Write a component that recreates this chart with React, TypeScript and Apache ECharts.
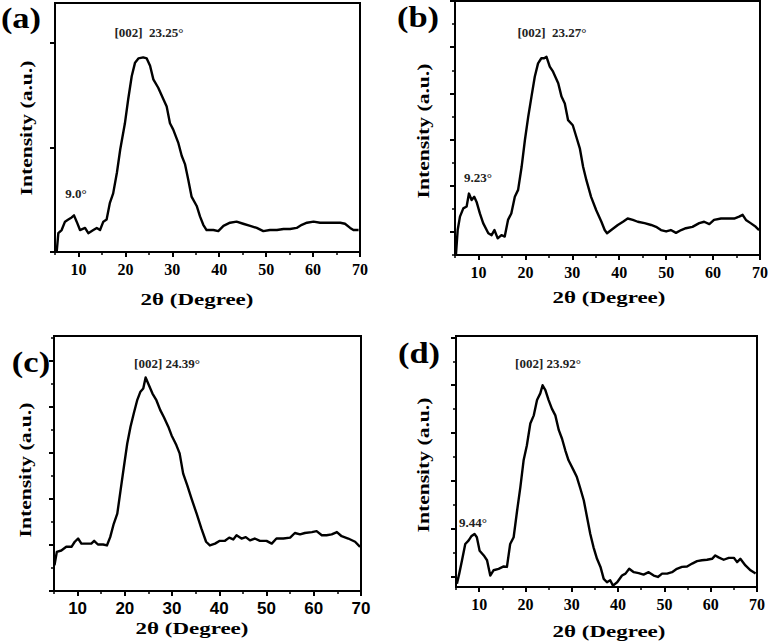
import React, { useEffect, useRef } from "react";
import * as echarts from "echarts";

// ---- Data (2θ in degrees, intensity in arbitrary units) ----
const thetaA = [5.36, 5.71, 6.42, 7.13, 7.84, 8.55, 9.05, 9.62, 10.33, 11.4, 12.1, 13.17, 13.9, 14.6, 15.3, 16.0, 16.7, 17.4, 18.2, 18.9, 19.9, 20.6, 21.35, 22.06, 22.77, 23.8, 24.55, 25.26, 25.96, 27.0, 28.1, 28.8, 29.5, 30.2, 31.3, 32.0, 32.7, 33.4, 34.1, 35.2, 35.9, 36.6, 37.3, 38.75, 39.8, 40.9, 42.3, 43.7, 45.1, 46.6, 48.0, 49.4, 50.8, 52.3, 53.7, 55.1, 56.5, 57.6, 58.7, 60.1, 61.5, 62.9, 64.3, 65.8, 66.8, 67.9, 68.6, 69.7];
const intensityA = [0.0, 0.18, 0.21, 0.29, 0.31, 0.33, 0.35, 0.29, 0.21, 0.23, 0.18, 0.21, 0.23, 0.21, 0.29, 0.31, 0.47, 0.56, 0.76, 0.98, 1.23, 1.46, 1.68, 1.81, 1.85, 1.86, 1.85, 1.78, 1.65, 1.57, 1.46, 1.39, 1.23, 1.17, 1.04, 0.92, 0.84, 0.69, 0.53, 0.44, 0.34, 0.26, 0.21, 0.21, 0.2, 0.25, 0.28, 0.29, 0.27, 0.25, 0.23, 0.2, 0.21, 0.21, 0.22, 0.22, 0.23, 0.26, 0.28, 0.29, 0.28, 0.28, 0.28, 0.28, 0.27, 0.23, 0.21, 0.21];

const thetaB = [5.2, 5.57, 6.06, 6.77, 7.48, 7.97, 8.54, 9.1, 9.6, 10.3, 11.0, 12.1, 12.8, 13.4, 14.1, 14.9, 15.6, 16.3, 17.0, 17.75, 18.45, 19.2, 19.9, 20.6, 21.3, 22.0, 22.7, 23.4, 24.0, 24.5, 25.2, 25.9, 27.0, 27.7, 28.4, 29.1, 30.1, 30.85, 31.6, 32.3, 33.0, 34.0, 35.1, 36.2, 36.9, 37.4, 38.3, 39.7, 40.8, 41.8, 42.9, 43.95, 45.4, 46.8, 47.85, 48.9, 50.0, 51.0, 52.1, 53.2, 54.2, 55.6, 57.05, 58.1, 59.2, 60.2, 61.7, 63.1, 64.5, 65.55, 66.3, 67.0, 68.0, 69.1, 69.8];
const intensityB = [0.5, 1.04, 1.33, 1.51, 1.55, 1.83, 1.69, 1.76, 1.65, 1.4, 1.19, 0.97, 0.93, 1.04, 0.86, 0.93, 0.9, 1.26, 1.4, 1.76, 1.91, 2.41, 2.99, 3.49, 3.93, 4.36, 4.65, 4.76, 4.76, 4.79, 4.58, 4.47, 4.22, 3.93, 3.78, 3.42, 3.31, 3.06, 2.81, 2.41, 2.12, 1.76, 1.47, 1.22, 1.04, 0.97, 1.04, 1.15, 1.22, 1.29, 1.26, 1.22, 1.19, 1.15, 1.11, 1.04, 1.01, 1.04, 0.98, 1.04, 1.08, 1.11, 1.19, 1.22, 1.17, 1.26, 1.29, 1.29, 1.29, 1.33, 1.37, 1.26, 1.19, 1.11, 1.04];

const thetaC = [5.1, 5.6, 6.55, 7.6, 8.7, 9.4, 10.1, 10.8, 11.85, 12.9, 13.5, 14.3, 15.4, 16.2, 16.9, 17.65, 18.4, 19.1, 19.8, 20.5, 21.2, 21.9, 22.6, 23.3, 23.9, 24.4, 25.1, 25.85, 26.7, 27.5, 28.25, 29.2, 29.9, 30.9, 31.6, 32.35, 33.2, 34.1, 35.2, 36.2, 37.2, 38.0, 39.1, 40.1, 41.2, 42.1, 42.95, 43.65, 44.7, 45.6, 46.5, 47.5, 48.6, 50.0, 51.1, 52.1, 53.55, 55.0, 56.0, 57.1, 58.1, 59.6, 60.6, 61.7, 62.7, 63.8, 64.9, 65.9, 67.3, 68.75, 69.8];
const intensityC = [0.56, 0.85, 0.88, 0.96, 0.96, 1.07, 1.14, 1.03, 1.03, 1.03, 1.09, 1.01, 1.01, 0.99, 1.17, 1.46, 1.68, 2.19, 2.7, 3.2, 3.57, 3.86, 4.14, 4.33, 4.4, 4.64, 4.47, 4.29, 4.14, 3.93, 3.78, 3.57, 3.38, 3.17, 2.99, 2.55, 2.3, 2.01, 1.68, 1.36, 1.07, 0.99, 1.03, 1.09, 1.09, 1.16, 1.12, 1.21, 1.14, 1.17, 1.1, 1.14, 1.09, 1.09, 1.03, 1.14, 1.14, 1.16, 1.26, 1.23, 1.26, 1.28, 1.3, 1.21, 1.21, 1.23, 1.28, 1.19, 1.14, 1.07, 0.96];

const thetaD = [5.2, 5.7, 6.3, 7.0, 7.7, 8.3, 9.0, 9.5, 10.1, 11.0, 11.7, 12.4, 13.1, 14.2, 15.3, 16.0, 16.7, 17.45, 18.2, 18.9, 19.6, 20.3, 21.05, 21.8, 22.5, 23.2, 23.7, 24.3, 25.0, 25.7, 26.45, 27.2, 27.9, 28.6, 29.3, 30.4, 31.1, 31.85, 32.6, 33.3, 34.0, 34.7, 35.45, 36.2, 36.9, 37.6, 38.3, 38.9, 39.8, 40.85, 41.6, 42.4, 43.4, 44.45, 45.5, 46.6, 47.7, 48.6, 49.5, 50.6, 51.65, 52.7, 53.8, 54.9, 56.0, 57.05, 58.1, 59.2, 60.3, 61.0, 61.7, 62.8, 63.9, 65.0, 65.7, 66.4, 67.5, 68.6, 69.7];
const intensityD = [0.85, 1.06, 1.34, 1.68, 1.75, 1.84, 1.89, 1.82, 1.54, 1.44, 1.34, 1.02, 1.13, 1.16, 1.21, 1.2, 1.68, 1.82, 2.38, 2.87, 3.43, 3.74, 4.2, 4.37, 4.69, 4.83, 5.0, 4.9, 4.69, 4.51, 4.37, 4.06, 3.88, 3.64, 3.43, 3.22, 3.08, 2.84, 2.59, 2.24, 1.89, 1.61, 1.37, 1.2, 0.95, 0.88, 0.92, 0.81, 0.88, 1.02, 1.06, 1.16, 1.09, 1.07, 1.04, 1.09, 1.02, 0.99, 1.06, 1.06, 1.09, 1.16, 1.2, 1.21, 1.27, 1.32, 1.34, 1.35, 1.37, 1.44, 1.4, 1.35, 1.39, 1.39, 1.3, 1.37, 1.23, 1.13, 1.06];

const xMajorTicks = [10, 20, 30, 40, 50, 60, 70];
const xMinorTicks = [5, 15, 25, 35, 45, 55, 65];
const yMajorA = [0, 1, 2];
const yMinorA: number[] = [];
const yMajorB = [1, 2, 3, 4, 5, 6];
const yMinorB = [0.5, 1.5, 2.5, 3.5, 4.5, 5.5];
const yMajorC = [0, 1, 2, 3, 4, 5];
const yMinorC = [0.5, 1.5, 2.5, 3.5, 4.5, 5.5];
const yMajorD = [1, 2, 3, 4, 5, 6];
const yMinorD = [1.5, 2.5, 3.5, 4.5, 5.5];

const panelLabels = ["(a)", "(b)", "(c)", "(d)"];
const peakLabels = ["[002]  23.25°", "[002]  23.27°", "[002] 24.39°", "[002] 23.92°"];
const lowPeakLabels = ["9.0°", "9.23°", "", "9.44°"];
const xTitle = "2θ (Degree)";
const yTitle = "Intensity (a.u.)";

const SERIF = "'Liberation Serif', 'Times New Roman', serif";
const SANS = "'Liberation Sans', Arial, sans-serif";

const panels = [
  { theta: thetaA, inten: intensityA, yMin: 0, yMax: 2.38, yMajor: yMajorA, yMinor: yMinorA,
    grid: { left: 55, top: 3, width: 305, height: 249 }, tickFont: SERIF, tickSize: 16,
    labelPos: [21, 18], peakPos: [149, 32], lowPos: [76, 193], xTitlePos: [197, 299], yTitlePos: [26, 128] },
  { theta: thetaB, inten: intensityB, yMin: 0.5, yMax: 6, yMajor: yMajorB, yMinor: yMinorB,
    grid: { left: 455, top: 1, width: 306, height: 254 }, tickFont: SERIF, tickSize: 16,
    labelPos: [418, 17], peakPos: [552, 32], lowPos: [478, 177], xTitlePos: [609, 297], yTitlePos: [423, 131] },
  { theta: thetaC, inten: intensityC, yMin: 0, yMax: 5.54, yMajor: yMajorC, yMinor: yMinorC,
    grid: { left: 54, top: 336, width: 307, height: 255 }, tickFont: SANS, tickSize: 17,
    labelPos: [31, 362], peakPos: [167, 363], lowPos: [0, 0], xTitlePos: [192, 628], yTitlePos: [25, 470] },
  { theta: thetaD, inten: intensityD, yMin: 0.78, yMax: 6.03, yMajor: yMajorD, yMinor: yMinorD,
    grid: { left: 456, top: 336, width: 301, height: 251 }, tickFont: SERIF, tickSize: 16,
    labelPos: [419, 353], peakPos: [548, 363], lowPos: [473, 522], xTitlePos: [609, 631], yTitlePos: [423, 465] },
];

function txt(text: string, x: number, y: number, font: string, fill: string, opts: any = {}) {
  return {
    type: "text",
    x,
    y,
    rotation: opts.rotation || 0,
    scaleX: opts.scaleX || 1,
    scaleY: opts.scaleY || 1,
    silent: true,
    style: {
      text,
      font,
      fill,
      textAlign: "center",
      textVerticalAlign: "middle",
      align: "center",
      verticalAlign: "middle",
    },
  };
}

export default function App() {
  const ref = useRef<HTMLDivElement>(null);

  useEffect(() => {
    if (!ref.current) return;
    const chart = echarts.init(ref.current, null, { renderer: "svg" });

    const grids: any[] = [];
    const xAxes: any[] = [];
    const yAxes: any[] = [];
    const series: any[] = [];
    const graphics: any[] = [];

    panels.forEach((p, i) => {
      grids.push({
        ...p.grid,
        show: true,
        borderColor: "#000",
        borderWidth: 2,
        backgroundColor: "transparent",
        containLabel: false,
      });
      xAxes.push({
        type: "value",
        gridIndex: i,
        position: "bottom",
        min: 5,
        max: 70,
        axisLine: { show: true, onZero: false, lineStyle: { color: "#000", width: 2 } },
        axisTick: { show: true, inside: false, length: 5, customValues: xMajorTicks, lineStyle: { color: "#000", width: 2 } },
        axisLabel: {
          show: true,
          customValues: xMajorTicks,
          margin: 9,
          color: "#000",
          fontFamily: p.tickFont,
          fontWeight: "bold",
          fontSize: p.tickSize,
          showMinLabel: true,
          showMaxLabel: true,
        },
        splitLine: { show: false },
      });
      xAxes.push({
        type: "value",
        gridIndex: i,
        position: "bottom",
        min: 5,
        max: 70,
        axisLine: { show: false, onZero: false },
        axisTick: { show: true, inside: false, length: 3, customValues: xMinorTicks, lineStyle: { color: "#000", width: 1.5 } },
        axisLabel: { show: false },
        splitLine: { show: false },
      });
      yAxes.push({
        type: "value",
        gridIndex: i,
        position: "left",
        min: p.yMin,
        max: p.yMax,
        axisLine: { show: true, onZero: false, lineStyle: { color: "#000", width: 2 } },
        axisTick: { show: true, inside: false, length: 5, customValues: p.yMajor, lineStyle: { color: "#000", width: 2 } },
        axisLabel: { show: false },
        splitLine: { show: false },
      });
      yAxes.push({
        type: "value",
        gridIndex: i,
        position: "left",
        min: p.yMin,
        max: p.yMax,
        axisLine: { show: false, onZero: false },
        axisTick: { show: p.yMinor.length > 0, inside: false, length: 3, customValues: p.yMinor.length ? p.yMinor : [p.yMin], lineStyle: { color: "#000", width: 1.5 } },
        axisLabel: { show: false },
        splitLine: { show: false },
      });

      series.push({
        type: "line",
        xAxisIndex: 2 * i,
        yAxisIndex: 2 * i,
        data: p.theta.map((t, k) => [t, p.inten[k]]),
        showSymbol: false,
        symbol: "none",
        smooth: false,
        lineStyle: { color: "#000", width: 2.4, join: "round" },
        silent: true,
      });

      graphics.push(txt(panelLabels[i], p.labelPos[0], p.labelPos[1], `bold 30px ${SERIF}`, "#000", { scaleX: 1.15 }));
      graphics.push(txt(peakLabels[i], p.peakPos[0], p.peakPos[1], `bold 13px ${SERIF}`, "#222"));
      if (lowPeakLabels[i]) {
        graphics.push(txt(lowPeakLabels[i], p.lowPos[0], p.lowPos[1], `bold 13px ${SERIF}`, "#222"));
      }
      graphics.push(txt(xTitle, p.xTitlePos[0], p.xTitlePos[1], `bold 17px ${SERIF}`, "#000", { scaleX: 1.35 }));
      graphics.push(txt(yTitle, p.yTitlePos[0], p.yTitlePos[1], `bold 17px ${SERIF}`, "#000", { rotation: Math.PI / 2, scaleX: 1.27 }));
    });

    chart.setOption({
      animation: false,
      backgroundColor: "#fff",
      grid: grids,
      xAxis: xAxes,
      yAxis: yAxes,
      series,
      graphic: { elements: graphics },
    });

    return () => {
      chart.dispose();
    };
  }, []);

  return (
    <div
      ref={ref}
      style={{ position: "fixed", left: 0, top: 0, width: 771, height: 644, background: "#fff" }}
    />
  );
}
